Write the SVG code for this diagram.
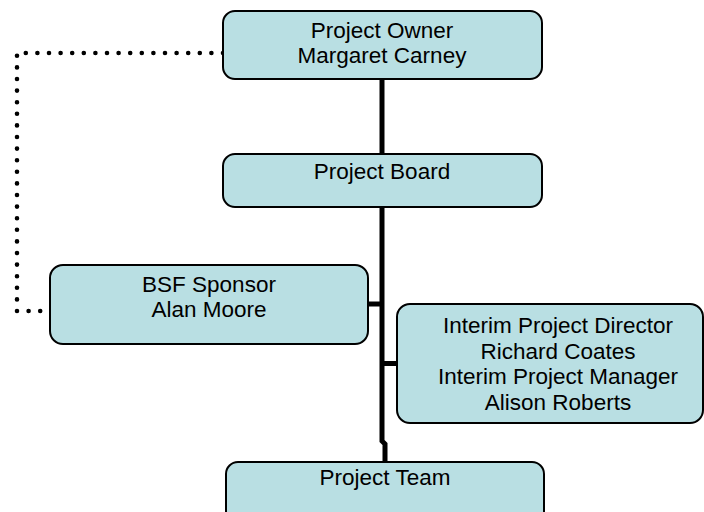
<svg xmlns="http://www.w3.org/2000/svg" width="704" height="512" viewBox="0 0 704 512">
<style>
.box{fill:#b9dfe3;stroke:#000;stroke-width:2}
.t{font-family:"Liberation Sans",Arial,sans-serif;font-size:22.5px;fill:#000;text-anchor:middle}
.solid{fill:none;stroke:#000;stroke-width:5}
.dot{fill:none;stroke:#000;stroke-width:4.6;stroke-linecap:round;stroke-dasharray:0 11.6}
</style>
<rect width="704" height="512" fill="#fff"/>
<g id="connectors">
<path class="dot" d="M223 53 H17 V311 H50"/>
<path class="solid" d="M382 79 V154"/>
<path class="solid" d="M382 207 V441 L385 444 V462"/>
<path class="solid" d="M367 304 H382"/>
<path class="solid" d="M382 363.5 H397"/>
</g>
<g id="owner">
<rect class="box" x="223" y="11" width="319" height="68" rx="12"/>
<text class="t" x="382" y="38">Project Owner</text>
<text class="t" x="382" y="63">Margaret Carney</text>
</g>
<g id="board">
<rect class="box" x="223" y="154" width="319" height="53" rx="12"/>
<text class="t" x="382" y="179">Project Board</text>
</g>
<g id="bsf">
<rect class="box" x="50" y="265" width="318" height="79" rx="13"/>
<text class="t" x="209" y="292">BSF Sponsor</text>
<text class="t" x="209" y="317">Alan Moore</text>
</g>
<g id="interim">
<rect class="box" x="397" y="304" width="306" height="119" rx="13"/>
<text class="t" x="558" y="333">Interim Project Director</text>
<text class="t" x="558" y="358.5">Richard Coates</text>
<text class="t" x="558" y="384">Interim Project Manager</text>
<text class="t" x="558" y="409.5">Alison Roberts</text>
</g>
<g id="team">
<rect class="box" x="226" y="462" width="318" height="70" rx="12"/>
<text class="t" x="385" y="485">Project Team</text>
</g>
</svg>
